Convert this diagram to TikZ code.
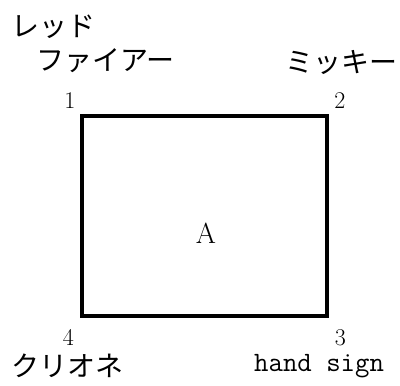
\documentclass[tikz,border=0pt]{standalone}
\usepackage{fontspec}
\newfontfamily\jpfont{Noto Sans CJK JP}
\begin{document}
\begin{tikzpicture}[x=1pt,y=-1pt,
  jp/.style={inner sep=0pt,font=\jpfont\fontsize{28}{30}\selectfont},
  num/.style={inner sep=0pt,font=\fontsize{24}{26}\selectfont},
  mono/.style={inner sep=0pt,font=\ttfamily\fontsize{28}{30}\selectfont},
  big/.style={inner sep=0pt,font=\fontsize{29}{32}\selectfont},
  boxline/.style={line width=3.2pt}]
\useasboundingbox (0,0) rectangle (400,386);
\draw[boxline] (82,116) rectangle (327,316);
\node[big,anchor=base] (a) at (206,243) {A};
\node[jp,anchor=west] (red) at (11,27) {レッド};
\node[jp,anchor=west] (fire) at (36,61) {ファイアー};
\node[jp,anchor=west] (mickey) at (285,62) {ミッキー};
\node[jp,anchor=west] (clio) at (11,366) {クリオネ};
\node[mono,anchor=base west] (hand) at (254,371) {hand sign};
\node[num,anchor=base] (n1) at (70,108) {1};
\node[num,anchor=base] (n2) at (340,108) {2};
\node[num,anchor=base] (n3) at (340.5,345) {3};
\node[num,anchor=base] (n4) at (68.5,345) {4};
\end{tikzpicture}
\end{document}
